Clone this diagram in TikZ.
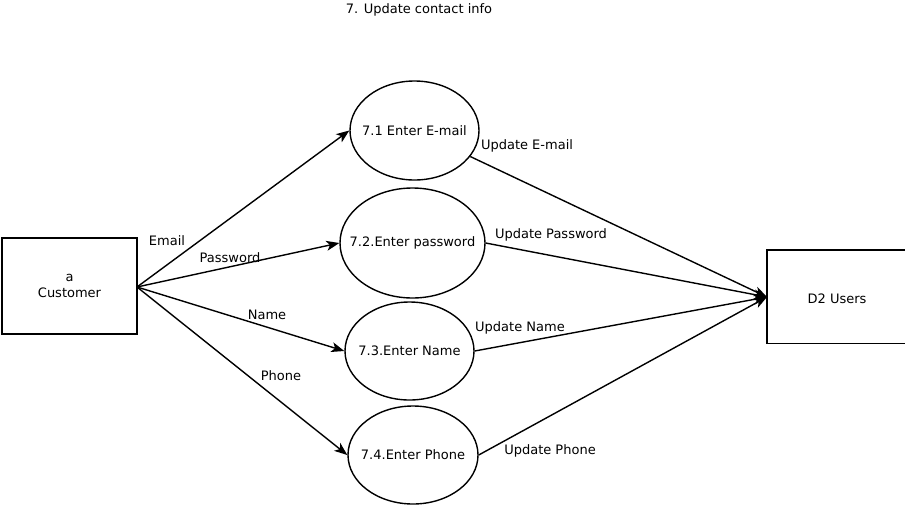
\documentclass[tikz,border=0pt]{standalone}
\usepackage{fontspec}
\setmainfont{DejaVu Sans}
\usetikzlibrary{shapes.geometric,arrows.meta}
\tikzset{
  proc/.style={draw,ellipse,line width=1.4pt,inner sep=0pt},
  flow/.style={->,>={Stealth[length=13pt,width=10pt,inset=3.5pt]},line width=1.4pt}
}
\begin{document}
\begin{tikzpicture}[x=1pt,y=-1pt,every node/.style={font=\fontsize{13}{16}\selectfont}]
    \useasboundingbox(0,0)rectangle(905,507);
    \node(title)at(419,9.5){7. Update contact info};%タイトル
    \node[draw,line width=1.4pt,minimum width=135pt,minimum height=96pt,align=center](cust)at(69.5,286){a\\Customer};
    \node[minimum width=140pt,minimum height=93pt,label={[yshift=-2pt]center:D2 Users}](users)at(837,296.5){};
    \draw[line width=1.4pt](users.north east)--(users.north west)--(users.south west)--(users.south east);
    \node[proc,minimum width=129pt,minimum height=99pt,label=center:{7.1 Enter E-mail}](p1)at(414.5,130.5){};
    \node[proc,minimum width=145pt,minimum height=110pt,label=center:{7.2.Enter password}](p2)at(412.5,243){};
    \node[proc,minimum width=129pt,minimum height=98pt,label=center:{7.3.Enter Name}](p3)at(409.5,351){};
    \node[proc,minimum width=130pt,minimum height=98pt,label=center:{7.4.Enter Phone}](p4)at(413,455){};
    \coordinate(c)at(137,287);
    \coordinate(u)at(767,297);
    \draw[flow](c)--(p1.west);
    \draw[flow](c)--(p2.west);
    \draw[flow](c)--(p3.west);
    \draw[flow](c)--(p4.west);
    \draw[flow](p1.-25)--(u);
    \draw[flow](p2.east)--(u);
    \draw[flow](p3.east)--(u);
    \draw[flow](p4.east)--(u);
    \node(l1)at(167,241){Email};
    \node(l2)at(230,257.5){Password};
    \node(l3)at(267,314.5){Name};
    \node(l4)at(281,375.5){Phone};
    \node(l5)at(527,145.5){Update E-mail};
    \node(l6)at(551,234.5){Update Password};
    \node(l7)at(520,327.5){Update Name};
    \node(l8)at(550,450.5){Update Phone};
  \end{tikzpicture}
\end{document}
